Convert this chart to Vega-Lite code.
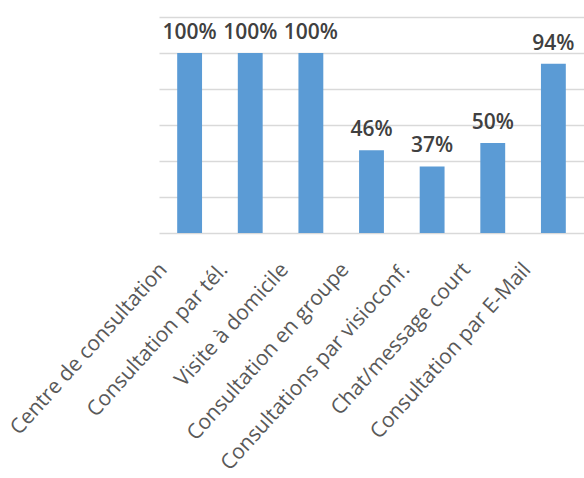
{
  "$schema": "https://vega.github.io/schema/vega-lite/v6.json",
  "autosize": "none",
  "padding": {"left": 159, "top": 17, "right": 0, "bottom": 245},
  "width": 425,
  "height": 216,
  "config": {"view": {"stroke": null}, "font": "Open Sans"},
  "data": {
    "values": [
      {"mode": "Centre de consultation", "share": 1.0},
      {"mode": "Consultation par tél.", "share": 1.0},
      {"mode": "Visite à domicile", "share": 1.0},
      {"mode": "Consultation en groupe", "share": 0.46},
      {"mode": "Consultations par visioconf.", "share": 0.37},
      {"mode": "Chat/message court", "share": 0.5},
      {"mode": "Consultation par E-Mail", "share": 0.94}
    ]
  },
  "encoding": {
    "x": {
      "field": "mode",
      "type": "nominal",
      "sort": null,
      "scale": {"paddingInner": 0.59, "paddingOuter": 0.3},
      "axis": {
        "title": null,
        "labelAngle": -48,
        "labelFontSize": 21,
        "labelColor": "#595959",
        "labelPadding": 33,
        "labelOffset": -26,
        "labelLimit": 400,
        "domain": false,
        "ticks": false
      }
    },
    "y": {
      "field": "share",
      "type": "quantitative",
      "scale": {"domain": [0, 1.2]},
      "axis": {
        "title": null,
        "labels": false,
        "ticks": false,
        "domain": false,
        "values": [0, 0.2, 0.4, 0.6, 0.8, 1.0, 1.2],
        "gridColor": "#d9d9d9",
        "gridWidth": 1.5
      }
    }
  },
  "layer": [
    {"mark": {"type": "bar", "color": "#5b9bd5"}},
    {
      "mark": {
        "type": "text",
        "baseline": "bottom",
        "dy": -10,
        "fontSize": 21,
        "fontWeight": 600,
        "color": "#404040"
      },
      "encoding": {
        "text": {"field": "share", "type": "quantitative", "format": ".0%"}
      }
    }
  ]
}
